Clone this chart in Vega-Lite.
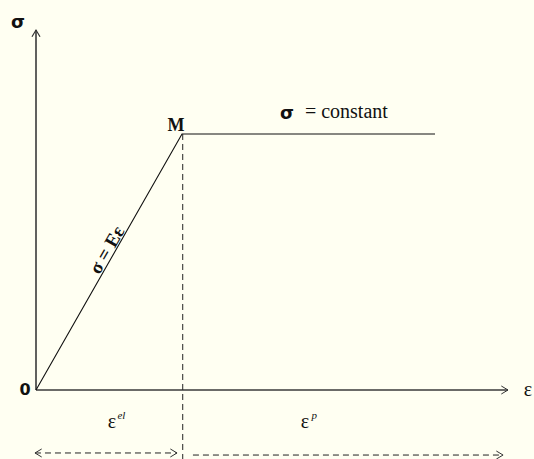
{
  "$schema": "https://vega.github.io/schema/vega-lite/v6.json",
  "width": 534,
  "height": 459,
  "padding": 0,
  "autosize": {"type": "none"},
  "background": "#fffff2",
  "config": {"view": {"stroke": null}},
  "datasets": {
    "axes": [
      {"seg": "y", "k": 0, "e": 0, "s": 0},
      {"seg": "y", "k": 1, "e": 0, "s": 1.406},
      {"seg": "x", "k": 0, "e": 0, "s": 0},
      {"seg": "x", "k": 1, "e": 3.233, "s": 0}
    ],
    "curve": [
      {"k": 0, "e": 0, "s": 0},
      {"k": 1, "e": 1, "s": 1},
      {"k": 2, "e": 2.733, "s": 1}
    ],
    "dashed": [
      {"seg": "v", "k": 0, "e": 1.005, "s": 1},
      {"seg": "v", "k": 1, "e": 1.005, "s": -0.27},
      {"seg": "el", "k": 0, "e": -0.007, "s": -0.246},
      {"seg": "el", "k": 1, "e": 0.966, "s": -0.246},
      {"seg": "p", "k": 0, "e": 1.075, "s": -0.254},
      {"seg": "p", "k": 1, "e": 3.199, "s": -0.254}
    ],
    "arrowRight": [
      {"e": 3.233, "s": 0},
      {"e": 0.966, "s": -0.246},
      {"e": 3.199, "s": -0.254}
    ],
    "arrowLeft": [
      {"e": -0.007, "s": -0.246}
    ],
    "arrowUp": [
      {"e": 0, "s": 1.406}
    ],
    "sigmaLabels": [
      {"e": -0.123, "s": 1.434, "t": "σ"},
      {"e": 1.719, "s": 1.08, "t": "σ"}
    ],
    "zeroLabel": [
      {"e": -0.075, "s": 0, "t": "0"}
    ],
    "boldLabels": [
      {"e": 0.959, "s": 1.031, "t": "M"}
    ],
    "plainLabels": [
      {"e": 3.37, "s": 0, "t": "ε"},
      {"e": 0.521, "s": -0.125, "t": "ε"},
      {"e": 1.842, "s": -0.125, "t": "ε"}
    ],
    "leftLabels": [
      {"e": 1.842, "s": 1.086, "t": "= constant"}
    ],
    "supLabels": [
      {"e": 0.585, "s": -0.1, "t": "el"},
      {"e": 1.905, "s": -0.1, "t": "p"}
    ],
    "rotLabels": [
      {"e": 0.486, "s": 0.547, "t": "σ = Eε"}
    ]
  },
  "encoding": {
    "x": {"field": "e", "type": "quantitative", "scale": {"domain": [-0.2466, 3.411], "nice": false, "zero": false}, "axis": null},
    "y": {"field": "s", "type": "quantitative", "scale": {"domain": [-0.2695, 1.5234], "nice": false, "zero": false}, "axis": null}
  },
  "layer": [
    {
      "data": {"name": "axes"},
      "mark": {"type": "line", "color": "#3a3a3a", "strokeWidth": 1.6},
      "encoding": {"detail": {"field": "seg"}, "order": {"field": "k"}}
    },
    {
      "data": {"name": "curve"},
      "mark": {"type": "line", "color": "#111111", "strokeWidth": 1.1},
      "encoding": {"order": {"field": "k"}}
    },
    {
      "data": {"name": "dashed"},
      "mark": {"type": "line", "color": "#222222", "strokeWidth": 1, "strokeDash": [6, 4]},
      "encoding": {"detail": {"field": "seg"}, "order": {"field": "k"}}
    },
    {
      "data": {"name": "arrowRight"},
      "mark": {"type": "point", "shape": "M-1,-0.6L0,0L-1,0.6", "filled": false, "color": "#333333", "strokeWidth": 1, "size": 180, "angle": 0, "opacity": 1}
    },
    {
      "data": {"name": "arrowLeft"},
      "mark": {"type": "point", "shape": "M-1,-0.6L0,0L-1,0.6", "filled": false, "color": "#333333", "strokeWidth": 1, "size": 180, "angle": 180, "opacity": 1}
    },
    {
      "data": {"name": "arrowUp"},
      "mark": {"type": "point", "shape": "M-1,-0.6L0,0L-1,0.6", "filled": false, "color": "#333333", "strokeWidth": 1.2, "size": 180, "angle": 270, "opacity": 1}
    },
    {
      "data": {"name": "sigmaLabels"},
      "mark": {"type": "text", "font": "DejaVu Sans", "fontWeight": "bold", "fontSize": 18, "color": "#111111", "align": "center", "baseline": "middle"},
      "encoding": {"text": {"field": "t"}}
    },
    {
      "data": {"name": "zeroLabel"},
      "mark": {"type": "text", "font": "DejaVu Sans", "fontWeight": "bold", "fontSize": 16, "color": "#111111", "align": "center", "baseline": "middle"},
      "encoding": {"text": {"field": "t"}}
    },
    {
      "data": {"name": "boldLabels"},
      "mark": {"type": "text", "font": "Liberation Serif", "fontWeight": "bold", "fontSize": 18, "color": "#111111", "align": "center", "baseline": "middle"},
      "encoding": {"text": {"field": "t"}}
    },
    {
      "data": {"name": "plainLabels"},
      "mark": {"type": "text", "font": "Liberation Serif", "fontSize": 20, "color": "#111111", "align": "center", "baseline": "middle"},
      "encoding": {"text": {"field": "t"}}
    },
    {
      "data": {"name": "leftLabels"},
      "mark": {"type": "text", "font": "Liberation Serif", "fontSize": 20, "color": "#111111", "align": "left", "baseline": "middle"},
      "encoding": {"text": {"field": "t"}}
    },
    {
      "data": {"name": "supLabels"},
      "mark": {"type": "text", "font": "Liberation Serif", "fontStyle": "italic", "fontSize": 11, "color": "#111111", "align": "center", "baseline": "middle"},
      "encoding": {"text": {"field": "t"}}
    },
    {
      "data": {"name": "rotLabels"},
      "mark": {"type": "text", "font": "Liberation Serif", "fontWeight": "bold", "fontSize": 19, "color": "#111111", "align": "center", "baseline": "middle", "angle": -60},
      "encoding": {"text": {"field": "t"}}
    }
  ]
}
